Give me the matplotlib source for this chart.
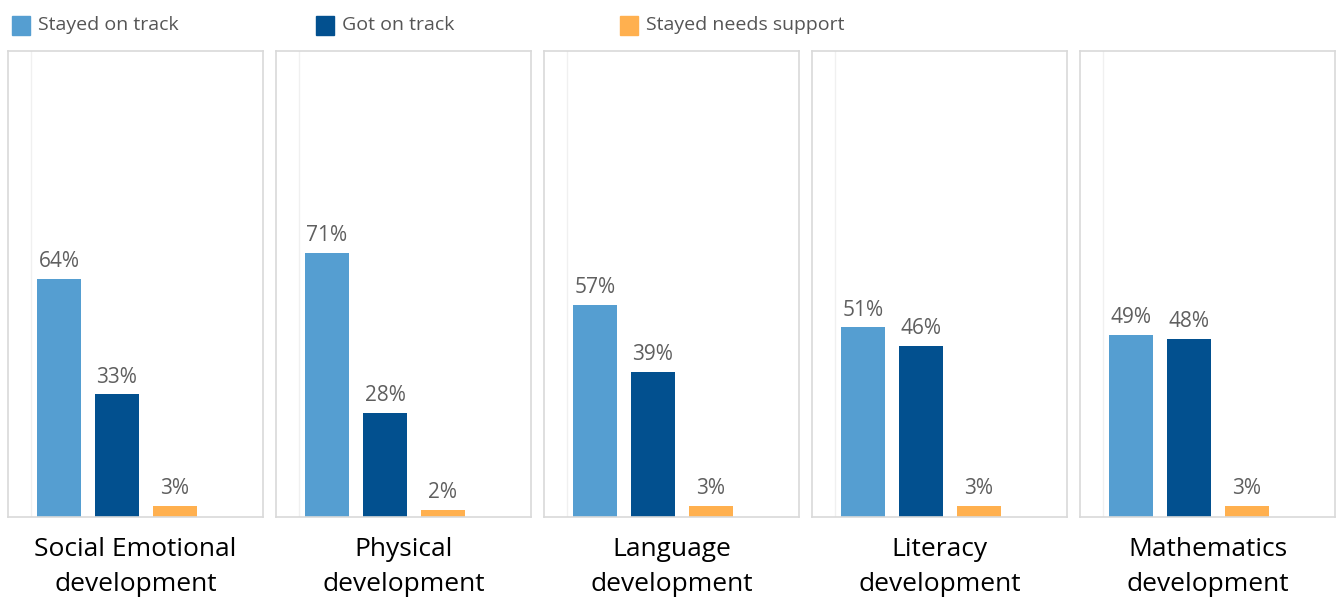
import numpy as np
import matplotlib.pyplot as plt
from matplotlib.patches import Rectangle

plt.rcParams['font.family'] = ['Open Sans', 'DejaVu Sans']

domains = ['Social Emotional\ndevelopment', 'Physical\ndevelopment',
           'Language\ndevelopment', 'Literacy\ndevelopment',
           'Mathematics\ndevelopment']
series = ['Stayed on track', 'Got on track', 'Stayed needs support']
stayed_on = [64, 71, 57, 51, 49]
got_on = [33, 28, 39, 46, 48]
needs_support = [3, 2, 3, 3, 3]
colors = ['#559ed1', '#02508f', '#ffb04f']

W, H = 1337, 598
fig = plt.figure(figsize=(W / 100, H / 100), dpi=100)

values = np.array([stayed_on, got_on, needs_support])
x = np.arange(3)

for i, name in enumerate(domains):
    left = 8 + 268 * i
    ax = fig.add_axes([left / W, 81 / H, 255 / W, 466 / H])
    vals = values[:, i]
    ax.bar(x, vals, width=0.76, color=colors, zorder=2)
    for xi, v in zip(x, vals):
        ax.text(xi, v + 1.8, f'{v}%', ha='center', va='bottom',
                fontsize=15, color='#5f5f5f')
    ax.axvline(-0.48, color='#f0f0f0', lw=1, zorder=1)
    ax.set_xlim(-0.88, 3.52)
    ax.set_ylim(0, 125.4)
    ax.set_xticks([])
    ax.set_yticks([])
    for s in ax.spines.values():
        s.set_color('#d9d9d9')
        s.set_linewidth(1.2)
    fig.text((left + 127.5) / W, (H - 567) / H, name, ha='center', va='center',
             fontsize=19, color='black', linespacing=1.5)

# legend
for j, (lab, c) in enumerate(zip(series, colors)):
    lx = 12 + 304 * j
    fig.patches.append(Rectangle((lx / W, (H - 35) / H), 18 / W, 19 / H,
                                 transform=fig.transFigure, color=c))
    fig.text((lx + 26) / W, (H - 25) / H, lab, ha='left', va='center',
             fontsize=14, color='#555555')

fig.savefig('out.png', dpi=100, facecolor='white')
